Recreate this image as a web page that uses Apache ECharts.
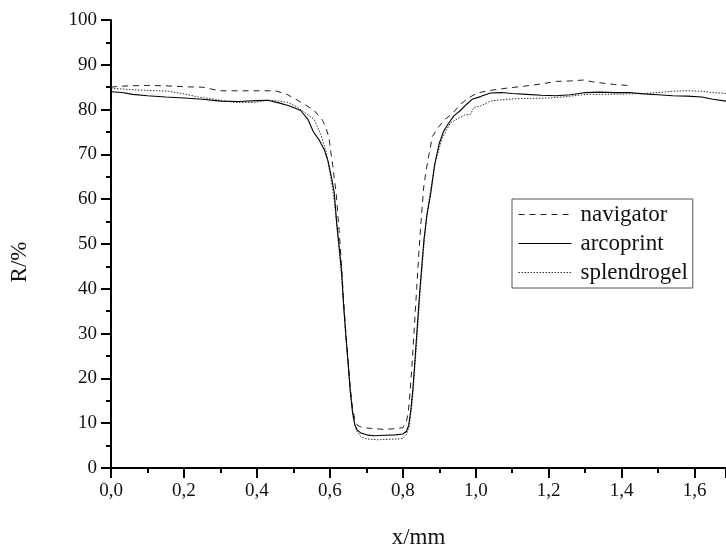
<!DOCTYPE html>
<html>
<head>
<meta charset="utf-8">
<script src="https://cdn.jsdelivr.net/npm/echarts@6/dist/echarts.min.js"></script>
<style>html,body{margin:0;padding:0;background:#fff}#c{width:726px;height:554px}</style>
</head>
<body>
<div id="c"></div>
<script>
const seriesNames = ['navigator', 'arcoprint', 'splendrogel'];

const navX = [0.00,0.02,0.05,0.10,0.15,0.20,0.25,0.28,0.30,0.35,0.40,0.45,0.48,0.507,0.53,0.557,0.58,0.59,0.598,0.603,0.608,0.612,0.617,0.626,0.632,0.638,0.644,0.65,0.656,0.662,0.668,0.676,0.69,0.72,0.75,0.78,0.80,0.81,0.815,0.82,0.826,0.832,0.838,0.844,0.85,0.857,0.864,0.871,0.881,0.898,0.915,0.935,0.958,0.98,1.004,1.04,1.086,1.13,1.177,1.222,1.26,1.295,1.32,1.349,1.38,1.414,1.425];
const navR = [85.0,85.2,85.3,85.4,85.3,85.1,85.0,84.5,84.2,84.2,84.2,84.2,83.5,82.3,81.2,79.8,77.6,75.8,73.6,70.3,67.5,64.6,61.7,52.3,45.0,37,30,24,18,13.5,11,9.5,9.0,8.8,8.6,8.8,9.0,10.4,12.5,17,24,32,40,48,55,62.5,66.5,69.6,74,76.1,77.8,79.0,81.2,82.6,83.7,84.3,84.8,85.2,85.7,86.3,86.4,86.6,86.2,85.9,85.6,85.4,85.3];

const arcoX = [0.00,0.03,0.06,0.10,0.15,0.20,0.25,0.30,0.35,0.40,0.43,0.46,0.49,0.52,0.54,0.555,0.57,0.585,0.595,0.603,0.612,0.619,0.626,0.632,0.638,0.644,0.65,0.656,0.662,0.668,0.675,0.685,0.70,0.72,0.75,0.78,0.80,0.81,0.816,0.822,0.828,0.834,0.84,0.846,0.852,0.858,0.866,0.876,0.888,0.90,0.912,0.926,0.94,0.958,0.975,0.99,1.013,1.04,1.07,1.10,1.14,1.18,1.22,1.26,1.30,1.34,1.38,1.42,1.46,1.50,1.54,1.58,1.62,1.65,1.686];
const arcoR = [84.0,83.8,83.4,83.1,82.8,82.6,82.3,81.9,81.8,82.0,82.1,81.5,80.8,79.8,77.8,75.0,73.3,71.0,68.5,65.5,61.5,54.5,49.0,44.0,36.0,29.5,23.5,17.0,12.5,9.8,8.5,7.8,7.4,7.2,7.3,7.4,7.6,8.2,9.5,13,18,25,32,39,45,51,56.5,61,68,72.5,75.2,77,78.6,79.8,81.2,82.3,82.9,83.7,83.8,83.6,83.4,83.2,83.1,83.3,83.8,83.9,83.8,83.8,83.5,83.3,83.1,83.0,82.8,82.3,81.9];

const splX = [0.00,0.03,0.065,0.10,0.157,0.20,0.24,0.284,0.339,0.393,0.43,0.46,0.485,0.51,0.53,0.557,0.575,0.59,0.60,0.61,0.618,0.625,0.632,0.638,0.644,0.65,0.657,0.664,0.672,0.685,0.70,0.73,0.76,0.79,0.80,0.81,0.818,0.825,0.831,0.837,0.843,0.849,0.856,0.864,0.874,0.888,0.908,0.93,0.949,0.97,0.986,0.995,1.013,1.04,1.07,1.104,1.15,1.204,1.25,1.29,1.313,1.36,1.414,1.46,1.50,1.54,1.58,1.62,1.65,1.686];
const splR = [84.8,84.6,84.4,84.3,84.1,83.5,82.8,82.3,81.6,81.6,82.1,81.9,81.6,80.6,79.4,77.8,74.5,70.5,66,61,55,49,43,36,29,23,16.5,11.5,8.5,7.0,6.5,6.3,6.4,6.5,6.6,7.5,9.5,14,20,27,34,41,48,55,61,68,73.6,77,77.9,78.8,79,80.5,80.8,81.9,82.2,82.4,82.5,82.6,82.9,83.3,83.4,83.4,83.5,83.6,83.8,84.1,84.2,84.1,83.8,83.6];

const xTickStep = 0.2;
const yTicks = [0,10,20,30,40,50,60,70,80,90,100];

function pairs(xs, ys) { return xs.map((x, i) => [x, ys[i]]); }

const FONT = 'Liberation Serif';
const chart = echarts.init(document.getElementById('c'), null, {renderer: 'canvas'});
const lineBase = {type: 'line', showSymbol: false, symbol: 'none', smooth: false, silent: true};
chart.setOption({
  backgroundColor: '#ffffff',
  animation: false,
  grid: {left: 109, top: 20, right: 0, bottom: 73, containLabel: false},
  legend: {
    orient: 'vertical',
    left: 512, top: 199,
    padding: [4, 5, 4, 6],
    itemWidth: 53, itemHeight: 14, itemGap: 6,
    borderColor: '#555', borderWidth: 1,
    backgroundColor: '#fff',
    itemStyle: {color: 'rgba(0,0,0,0)', borderWidth: 0, opacity: 0},
    lineStyle: {width: 1},
    textStyle: {fontFamily: FONT, fontSize: 23, color: '#111', lineHeight: 23, padding: [0, 0, 0, 4]},
    data: seriesNames
  },
  xAxis: {
    type: 'value', min: 0, max: 1.686, interval: xTickStep,
    name: 'x/mm', nameLocation: 'middle', nameGap: 58,
    nameTextStyle: {fontFamily: FONT, fontSize: 23, color: '#111'},
    axisLine: {show: true, onZero: false, lineStyle: {color: '#000', width: 2}},
    axisTick: {show: true, length: 10, lineStyle: {color: '#000', width: 2}},
    minorTick: {show: true, splitNumber: 2, length: 5, lineStyle: {color: '#000', width: 2}},
    splitLine: {show: false},
    axisLabel: {fontFamily: FONT, fontSize: 19, color: '#111', margin: 14, showMaxLabel: false,
      formatter: v => v.toFixed(1).replace('.', ',')}
  },
  yAxis: {
    type: 'value', min: yTicks[0], max: yTicks[yTicks.length - 1], interval: yTicks[1] - yTicks[0],
    name: 'R/%', nameLocation: 'middle', nameGap: 80, nameRotate: 90,
    nameTextStyle: {fontFamily: FONT, fontSize: 23, color: '#111', padding: [0, 36, 0, 0]},
    axisLine: {show: true, onZero: false, lineStyle: {color: '#000', width: 2}},
    axisTick: {show: true, length: 10, lineStyle: {color: '#000', width: 2}},
    minorTick: {show: true, splitNumber: 2, length: 5, lineStyle: {color: '#000', width: 2}},
    splitLine: {show: false},
    axisLabel: {fontFamily: FONT, fontSize: 19, color: '#111', margin: 14}
  },
  series: [
    Object.assign({}, lineBase, {name: seriesNames[0], data: pairs(navX, navR), z: 3,
      itemStyle: {color: '#222'}, lineStyle: {color: '#222', width: 1, type: [6, 5]}}),
    Object.assign({}, lineBase, {name: seriesNames[1], data: pairs(arcoX, arcoR), z: 4,
      itemStyle: {color: '#000'}, lineStyle: {color: '#000', width: 1.1, type: 'solid'}}),
    Object.assign({}, lineBase, {name: seriesNames[2], data: pairs(splX, splR), z: 2,
      itemStyle: {color: '#333'}, lineStyle: {color: '#333', width: 1, type: [1.5, 1.5]}})
  ]
});
</script>
</body>
</html>
